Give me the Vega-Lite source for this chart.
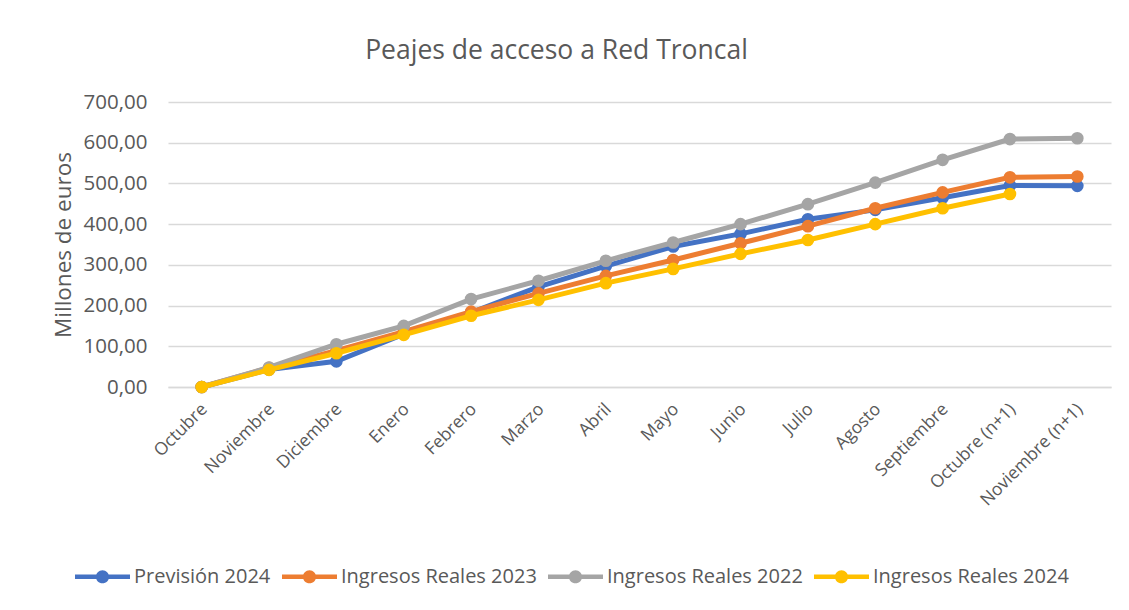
{
  "$schema": "https://vega.github.io/schema/vega-lite/v6.json",
  "width": 943,
  "height": 285,
  "autosize": "none",
  "padding": {"left": 168, "top": 102, "right": 18, "bottom": 223},
  "background": "white",
  "config": {
    "locale": {"number": {"decimal": ",", "thousands": ".", "grouping": [3], "currency": ["", " €"]}},
    "font": "Open Sans",
    "view": {"stroke": null}
  },
  "title": {
    "text": "Peajes de acceso a Red Troncal",
    "fontSize": 26.5,
    "fontWeight": "normal",
    "color": "#595959",
    "font": "Open Sans",
    "anchor": "middle",
    "frame": "group",
    "dx": -83,
    "offset": 28
  },
  "data": {
    "values": [
      {"mes": "Octubre", "serie": "Previsión 2024", "valor": 0},
      {"mes": "Noviembre", "serie": "Previsión 2024", "valor": 43},
      {"mes": "Diciembre", "serie": "Previsión 2024", "valor": 63},
      {"mes": "Enero", "serie": "Previsión 2024", "valor": 130},
      {"mes": "Febrero", "serie": "Previsión 2024", "valor": 183},
      {"mes": "Marzo", "serie": "Previsión 2024", "valor": 246},
      {"mes": "Abril", "serie": "Previsión 2024", "valor": 297},
      {"mes": "Mayo", "serie": "Previsión 2024", "valor": 345},
      {"mes": "Junio", "serie": "Previsión 2024", "valor": 376},
      {"mes": "Julio", "serie": "Previsión 2024", "valor": 412},
      {"mes": "Agosto", "serie": "Previsión 2024", "valor": 435},
      {"mes": "Septiembre", "serie": "Previsión 2024", "valor": 465},
      {"mes": "Octubre (n+1)", "serie": "Previsión 2024", "valor": 495},
      {"mes": "Noviembre (n+1)", "serie": "Previsión 2024", "valor": 494},
      {"mes": "Octubre", "serie": "Ingresos Reales 2023", "valor": 0},
      {"mes": "Noviembre", "serie": "Ingresos Reales 2023", "valor": 47},
      {"mes": "Diciembre", "serie": "Ingresos Reales 2023", "valor": 89},
      {"mes": "Enero", "serie": "Ingresos Reales 2023", "valor": 136},
      {"mes": "Febrero", "serie": "Ingresos Reales 2023", "valor": 185},
      {"mes": "Marzo", "serie": "Ingresos Reales 2023", "valor": 230},
      {"mes": "Abril", "serie": "Ingresos Reales 2023", "valor": 273},
      {"mes": "Mayo", "serie": "Ingresos Reales 2023", "valor": 312},
      {"mes": "Junio", "serie": "Ingresos Reales 2023", "valor": 353},
      {"mes": "Julio", "serie": "Ingresos Reales 2023", "valor": 395},
      {"mes": "Agosto", "serie": "Ingresos Reales 2023", "valor": 439},
      {"mes": "Septiembre", "serie": "Ingresos Reales 2023", "valor": 478},
      {"mes": "Octubre (n+1)", "serie": "Ingresos Reales 2023", "valor": 515},
      {"mes": "Noviembre (n+1)", "serie": "Ingresos Reales 2023", "valor": 517},
      {"mes": "Octubre", "serie": "Ingresos Reales 2022", "valor": 0},
      {"mes": "Noviembre", "serie": "Ingresos Reales 2022", "valor": 48},
      {"mes": "Diciembre", "serie": "Ingresos Reales 2022", "valor": 105},
      {"mes": "Enero", "serie": "Ingresos Reales 2022", "valor": 150},
      {"mes": "Febrero", "serie": "Ingresos Reales 2022", "valor": 216},
      {"mes": "Marzo", "serie": "Ingresos Reales 2022", "valor": 261},
      {"mes": "Abril", "serie": "Ingresos Reales 2022", "valor": 310},
      {"mes": "Mayo", "serie": "Ingresos Reales 2022", "valor": 355},
      {"mes": "Junio", "serie": "Ingresos Reales 2022", "valor": 400},
      {"mes": "Julio", "serie": "Ingresos Reales 2022", "valor": 449},
      {"mes": "Agosto", "serie": "Ingresos Reales 2022", "valor": 502},
      {"mes": "Septiembre", "serie": "Ingresos Reales 2022", "valor": 558},
      {"mes": "Octubre (n+1)", "serie": "Ingresos Reales 2022", "valor": 609},
      {"mes": "Noviembre (n+1)", "serie": "Ingresos Reales 2022", "valor": 611},
      {"mes": "Octubre", "serie": "Ingresos Reales 2024", "valor": 0},
      {"mes": "Noviembre", "serie": "Ingresos Reales 2024", "valor": 42},
      {"mes": "Diciembre", "serie": "Ingresos Reales 2024", "valor": 83},
      {"mes": "Enero", "serie": "Ingresos Reales 2024", "valor": 128},
      {"mes": "Febrero", "serie": "Ingresos Reales 2024", "valor": 175},
      {"mes": "Marzo", "serie": "Ingresos Reales 2024", "valor": 214},
      {"mes": "Abril", "serie": "Ingresos Reales 2024", "valor": 255},
      {"mes": "Mayo", "serie": "Ingresos Reales 2024", "valor": 290},
      {"mes": "Junio", "serie": "Ingresos Reales 2024", "valor": 327},
      {"mes": "Julio", "serie": "Ingresos Reales 2024", "valor": 361},
      {"mes": "Agosto", "serie": "Ingresos Reales 2024", "valor": 400},
      {"mes": "Septiembre", "serie": "Ingresos Reales 2024", "valor": 439},
      {"mes": "Octubre (n+1)", "serie": "Ingresos Reales 2024", "valor": 474}
    ]
  },
  "encoding": {
    "x": {
      "field": "mes",
      "type": "ordinal",
      "sort": null,
      "scale": {"type": "point", "padding": 0.5},
      "axis": {
        "title": null,
        "labelAngle": -45,
        "labelFontSize": 17.5,
        "labelColor": "#595959",
        "labelFont": "Open Sans",
        "ticks": false,
        "domain": true,
        "domainColor": "#d9d9d9",
        "domainWidth": 1.5,
        "labelPadding": 13,
        "labelOffset": -4,
        "grid": false
      }
    },
    "y": {
      "field": "valor",
      "type": "quantitative",
      "scale": {"domain": [0, 700], "nice": false},
      "axis": {
        "title": "Millones de euros",
        "titleFontSize": 22.5,
        "titleFontWeight": "normal",
        "titleColor": "#595959",
        "titleFont": "Open Sans",
        "titlePadding": 8,
        "format": ".2f",
        "values": [0, 100, 200, 300, 400, 500, 600, 700],
        "labelFontSize": 20.5,
        "labelColor": "#595959",
        "labelFont": "Open Sans",
        "labelPadding": 21,
        "ticks": false,
        "domain": false,
        "grid": true,
        "gridColor": "#d9d9d9",
        "gridWidth": 1.5
      }
    },
    "color": {
      "field": "serie",
      "type": "nominal",
      "scale": {
        "domain": ["Previsión 2024", "Ingresos Reales 2023", "Ingresos Reales 2022", "Ingresos Reales 2024"],
        "range": ["#4472C4", "#ED7D31", "#A5A5A5", "#FFC000"]
      },
      "legend": {
        "title": null,
        "orient": "none",
        "direction": "horizontal",
        "legendX": -93,
        "legendY": 447,
        "labelFontSize": 20,
        "labelColor": "#595959",
        "labelFont": "Open Sans",
        "labelOffset": 4,
        "labelLimit": 0,
        "columnPadding": 11,
        "symbolSize": 3025,
        "symbolType": "M-1,-0.085H1V0.085H-1Z M-0.24,0A0.24,0.24 0 1,1 0.24,0A0.24,0.24 0 1,1 -0.24,0Z",
        "symbolStrokeWidth": 0,
        "encode": {
          "symbols": {
            "update": {
              "fill": {"scale": "color", "field": "value"},
              "strokeWidth": {"value": 0},
              "opacity": {"value": 1}
            }
          }
        }
      }
    }
  },
  "layer": [
    {
      "transform": [{"filter": "datum.serie === 'Previsión 2024'"}],
      "mark": {"type": "line", "strokeWidth": 5, "point": {"filled": true, "size": 160, "opacity": 1}}
    },
    {
      "transform": [{"filter": "datum.serie === 'Ingresos Reales 2023'"}],
      "mark": {"type": "line", "strokeWidth": 5, "point": {"filled": true, "size": 160, "opacity": 1}}
    },
    {
      "transform": [{"filter": "datum.serie === 'Ingresos Reales 2022'"}],
      "mark": {"type": "line", "strokeWidth": 5, "point": {"filled": true, "size": 160, "opacity": 1}}
    },
    {
      "transform": [{"filter": "datum.serie === 'Ingresos Reales 2024'"}],
      "mark": {"type": "line", "strokeWidth": 5, "point": {"filled": true, "size": 160, "opacity": 1}}
    }
  ]
}
